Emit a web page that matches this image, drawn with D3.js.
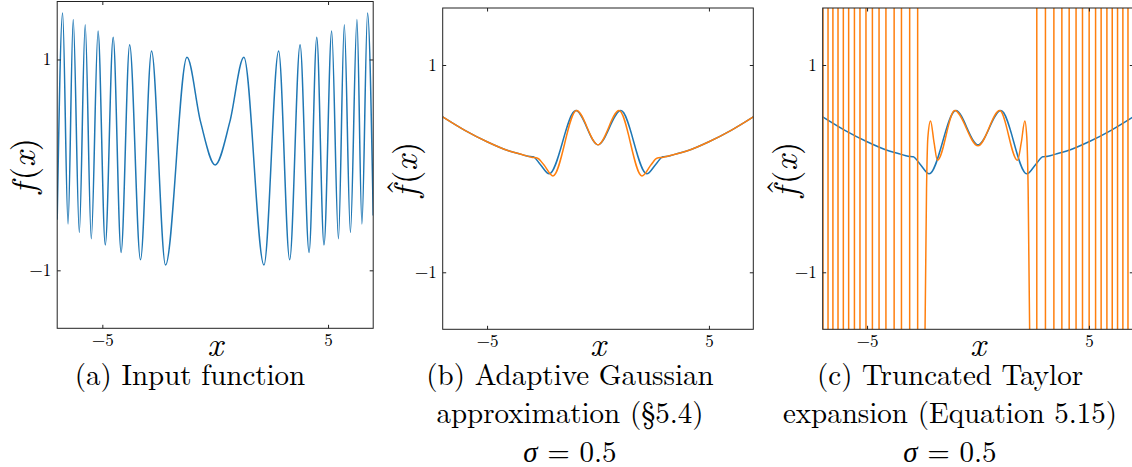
<!DOCTYPE html>
<html>
<head>
<meta charset="utf-8">
<script src="https://cdn.jsdelivr.net/npm/d3@7"></script>
<style>
  body { margin: 0; background: #fff; }
  text { font-family: "Latin Modern Roman", "Liberation Serif", serif; fill: #000; }
</style>
</head>
<body>
<svg id="chart" width="1132" height="467"></svg>
<script>
// (a) input function: peaks and troughs
const inputX = [-7.00, -6.76, -6.52, -6.29, -6.02, -5.76, -5.49, -5.19, -4.87, -4.52, -4.17, -3.79, -3.31, -2.82, -2.20, -1.25,
  -0.65, 0.00, 0.65,
  1.27, 2.16, 2.81, 3.30, 3.76, 4.16, 4.50, 4.82, 5.16, 5.46, 5.72, 5.99, 6.28, 6.50, 6.75, 7.00];
const inputY = [-0.52, 1.44, -0.56, 1.38, -0.64, 1.33, -0.70, 1.27, -0.76, 1.21, -0.83, 1.14, -0.90, 1.08, -0.95, 1.02,
  0.41, 0.00, 0.41,
  1.02, -0.95, 1.08, -0.90, 1.14, -0.83, 1.21, -0.76, 1.27, -0.70, 1.33, -0.64, 1.38, -0.56, 1.44, -0.48];

// blue curve of (b) and (c)
const smoothX = [-7, -6, -5, -4, -3.5, -3.15, -2.92, -2.6, -2.2, -1.0, 0, 1.03, 2.2, 2.6, 2.92, 3.15, 3.5, 4, 5, 6, 7];
const smoothY = [0.50, 0.37, 0.26, 0.17, 0.14, 0.12, 0.115, 0.04, -0.05, 0.56, 0.23, 0.56, -0.05, 0.04, 0.115, 0.12, 0.14, 0.17, 0.26, 0.37, 0.50];

// (b) adaptive gaussian approximation, orange
const adaptX = [-7, -6, -5, -4, -3.4, -3.0, -2.72, -2.45, -2.03, -0.97, 0, 0.95, 1.98, 2.4, 2.65, 2.95, 3.4, 4, 5, 6, 7];
const adaptY = [0.50, 0.37, 0.26, 0.17, 0.135, 0.11, 0.10, 0.04, -0.07, 0.56, 0.23, 0.56, -0.07, 0.04, 0.10, 0.11, 0.135, 0.17, 0.26, 0.37, 0.50];

// (c) truncated taylor, orange: middle part that stays in view
const taylorX = [-2.40, -2.32, -2.26, -2.14, -1.98, -1.83, -1.05, 0, 0.98, 1.78, 1.95, 2.11, 2.20, 2.26, 2.34];
const taylorY = [-1.8, -0.2, 0.30, 0.46, 0.25, 0.08, 0.56, 0.22, 0.56, 0.08, 0.25, 0.46, 0.30, -0.2, -1.8];
// where it shoots across the whole plot (1 = going up, -1 = going down)
const jumpX = [-6.99, -6.76, -6.54, -6.31, -6.07, -5.83, -5.57, -5.32, -5.05, -4.76, -4.46, -4.15, -3.78, -3.45, -3.08, -2.72,
  2.65, 3.04, 3.42, 3.78, 4.11, 4.42, 4.71, 5.01, 5.30, 5.55, 5.81, 6.05, 6.29, 6.53, 6.76, 6.98];
const jumpDir = [1, -1, 1, -1, 1, -1, 1, -1, 1, -1, 1, -1, 1, -1, 1, -1,
  1, -1, 1, -1, 1, -1, 1, -1, 1, -1, 1, -1, 1, -1, 1, -1];

const xTicks = [-5, 5];
const yTicks = [1, -1];
const captions = [
  ["(a) Input function"],
  ["(b) Adaptive Gaussian", "approximation (§5.4)", "σ = 0.5"],
  ["(c) Truncated Taylor", "expansion (Equation 5.15)", "σ = 0.5"]
];

const blue = "#1f77b4", orange = "#ff7f0e";
const svg = d3.select("#chart");

const panels = [
  { left: 57.2, right: 373.2, top: 1.5, bottom: 328.3, labX: 35, hat: false, capX: 190 },
  { left: 442.7, right: 753.3, top: 8, bottom: 329.3, labX: 417, hat: true, capX: 570 },
  { left: 822.7, right: 1133.3, top: 8, bottom: 329.3, labX: 797, hat: true, capX: 950 }
];

panels.forEach((p, i) => {
  const x = d3.scaleLinear().domain([-7, 7]).range([p.left, p.right]);
  const y = d3.scaleLinear().domain([-1.55, 1.55]).range([p.bottom, p.top]);
  const g = svg.append("g");

  g.append("clipPath").attr("id", "clip" + i)
    .append("rect")
    .attr("x", p.left).attr("y", p.top)
    .attr("width", p.right - p.left).attr("height", p.bottom - p.top);

  const plot = g.append("g").attr("clip-path", "url(#clip" + i + ")");
  const line = d3.line().x(d => x(d[0])).y(d => y(d[1])).curve(d3.curveMonotoneX);

  function curve(xs, ys, color) {
    plot.append("path")
      .attr("d", line(d3.zip(xs, ys)))
      .attr("fill", "none")
      .attr("stroke", color)
      .attr("stroke-width", 1.5);
  }

  if (i === 0) {
    curve(inputX, inputY, blue);
  } else if (i === 1) {
    curve(smoothX, smoothY, blue);
    curve(adaptX, adaptY, orange);
  } else {
    curve(smoothX, smoothY, blue);
    // the off-chart jumps: straight segments far beyond the y limits
    const pts = [];
    jumpX.forEach((jx, k) => {
      pts.push([jx, -jumpDir[k] * 3]);
      pts.push([jx, jumpDir[k] * 3]);
    });
    const left = pts.filter(d => d[0] < 0), right = pts.filter(d => d[0] > 0);
    [left, right].forEach(seg => {
      plot.append("path")
        .attr("d", d3.line().x(d => x(d[0])).y(d => y(d[1]))(seg))
        .attr("fill", "none")
        .attr("stroke", orange)
        .attr("stroke-width", 1.5);
    });
    curve(taylorX, taylorY, orange);
  }

  // ticks on all four sides, pointing inwards
  const fmt = d3.format("d");
  const axes = [
    [d3.axisBottom(x).tickValues(xTicks).tickFormat(fmt), `translate(0,${p.bottom})`],
    [d3.axisTop(x).tickValues(xTicks).tickFormat(""), `translate(0,${p.top})`],
    [d3.axisLeft(y).tickValues(yTicks).tickFormat(fmt), `translate(${p.left},0)`],
    [d3.axisRight(y).tickValues(yTicks).tickFormat(""), `translate(${p.right},0)`]
  ];
  axes.forEach(([ax, tr]) => {
    const a = g.append("g").attr("transform", tr)
      .call(ax.tickSize(-3.5).tickPadding(6));
    a.select(".domain").remove();
    a.selectAll("line").attr("stroke", "#222");
    a.selectAll("text")
      .attr("fill", "#111")
      .style("font-family", "'Latin Modern Roman', serif")
      .style("font-size", "17px");
  });

  g.append("rect")
    .attr("x", p.left).attr("y", p.top)
    .attr("width", p.right - p.left).attr("height", p.bottom - p.top)
    .attr("fill", "none").attr("stroke", "#222").attr("stroke-width", 1);

  // x label
  g.append("text")
    .attr("x", (p.left + p.right) / 2).attr("y", 356)
    .attr("text-anchor", "middle")
    .style("font-size", "34px").style("font-style", "italic")
    .text("x");

  // y label
  const cy = (p.top + p.bottom) / 2 + 1;
  const yg = g.append("g").attr("transform", `translate(${p.labX},${cy}) rotate(-90)`);
  const yl = yg.append("text")
    .attr("text-anchor", "middle")
    .style("font-size", "34px");
  yl.append("tspan").style("font-style", "italic").text("f");
  yl.append("tspan").attr("dx", 3).text("(");
  yl.append("tspan").style("font-style", "italic").text("x");
  yl.append("tspan").text(")");
  if (p.hat) {
    const s = yl.node().getStartPositionOfChar(0).x;
    const e = yl.node().getEndPositionOfChar(0).x;
    yg.append("text")
      .attr("x", (s + e) / 2 + 5).attr("y", -7)
      .attr("text-anchor", "middle")
      .style("font-size", "34px")
      .text("\u02C6");
  }

  // caption
  captions[i].forEach((c, k) => {
    const t = g.append("text")
      .attr("x", p.capX).attr("y", 385 + k * 38.3)
      .attr("text-anchor", "middle")
      .style("font-size", "29px");
    if (c.startsWith("σ")) {
      t.append("tspan").style("font-style", "italic").text("σ");
      t.append("tspan").text(c.slice(1));
    } else {
      t.text(c);
    }
  });
});
</script>
</body>
</html>
